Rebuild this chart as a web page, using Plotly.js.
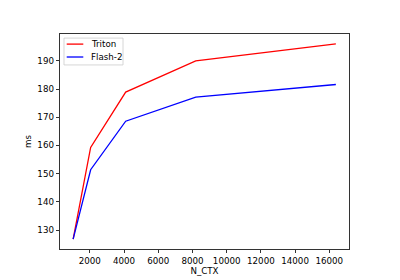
<!DOCTYPE html>
<html>
<head>
<meta charset="utf-8">
<script src="https://cdn.plot.ly/plotly-3.0.1.min.js"></script>
<style>html,body{margin:0;padding:0;background:#fff;}#chart{width:400px;height:280px;}</style>
</head>
<body>
<div id="chart"></div>
<script>
const nCtx = [1024, 2048, 4096, 8192, 16384];
const triton = [126.8, 159.3, 178.9, 190.0, 196.0];
const flash2 = [126.8, 151.4, 168.6, 177.1, 181.6];
const xTicks = [2000, 4000, 6000, 8000, 10000, 12000, 14000, 16000];
const yTicks = [130, 140, 150, 160, 170, 180, 190];
const seriesNames = ['Triton', 'Flash-2'];
const seriesColors = ['#ff0000', '#0000ff'];

const font = {family: 'DejaVu Sans', size: 8.7, color: '#000'};
const traces = [
  {x: nCtx, y: triton, type: 'scatter', mode: 'lines', name: seriesNames[0], line: {color: seriesColors[0], width: 1.3}},
  {x: nCtx, y: flash2, type: 'scatter', mode: 'lines', name: seriesNames[1], line: {color: seriesColors[1], width: 1.3}}
];
const axisCommon = {
  showline: true, mirror: true, linecolor: '#000', linewidth: 0.8,
  ticks: 'outside', ticklen: 3.5, tickwidth: 0.8, tickcolor: '#000',
  showgrid: false, zeroline: false, tickfont: font
};

// legend drawn in matplotlib style (paper coords of the plot area)
const legY = [0.953, 0.893];
const shapes = [{type: 'rect', xref: 'paper', yref: 'paper', x0: 0.0138, x1: 0.218, y0: 0.856, y1: 0.981,
  line: {color: '#cccccc', width: 0.8}, fillcolor: 'rgba(255,255,255,0.8)', layer: 'above'}];
const annotations = [];
seriesNames.forEach((n, i) => {
  shapes.push({type: 'line', xref: 'paper', yref: 'paper', x0: 0.0232, x1: 0.0806, y0: legY[i], y1: legY[i],
    line: {color: seriesColors[i], width: 1.3}, layer: 'above'});
  annotations.push({xref: 'paper', yref: 'paper', x: 0.1003, y: legY[i], xanchor: 'left', yanchor: 'middle',
    text: n, showarrow: false, font: font});
});

const layout = {
  width: 400, height: 280,
  margin: {l: 60, r: 51, t: 34, b: 31},
  paper_bgcolor: '#fff', plot_bgcolor: '#fff',
  font: font,
  showlegend: false,
  shapes: shapes,
  annotations: annotations,
  xaxis: Object.assign({}, axisCommon, {range: [256, 17152], tickvals: xTicks, ticktext: xTicks.map(String), title: {text: 'N_CTX', font: font, standoff: 2}}),
  yaxis: Object.assign({}, axisCommon, {range: [123.3, 199.5], tickvals: yTicks, ticktext: yTicks.map(String), title: {text: 'ms', font: font, standoff: 4}})
};
Plotly.newPlot('chart', traces, layout, {staticPlot: true, displayModeBar: false});
</script>
</body>
</html>
